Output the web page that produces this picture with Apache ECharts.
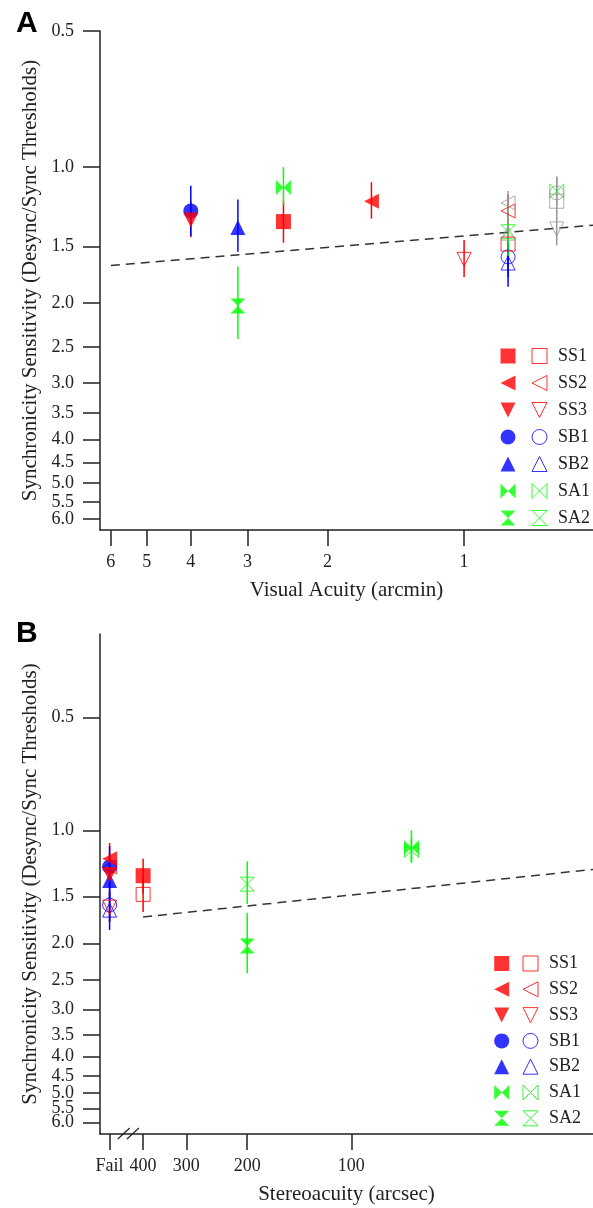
<!DOCTYPE html>
<html lang="en">
<head>
<meta charset="UTF-8">
<title>Synchronicity sensitivity</title>
<script src="https://cdn.jsdelivr.net/npm/echarts@6/dist/echarts.min.js"></script>
<style>html,body{margin:0;padding:0;background:#fff}</style>
</head>
<body>
<div id="main" style="width:593px;height:1208px;"></div>
<script>
  const subjects = ['SS1', 'SS2', 'SS3', 'SB1', 'SB2', 'SA1', 'SA2']
  const colors = ['#ff0000', '#ff0000', '#ff0000', '#0000ff', '#0000ff', '#00ff00', '#00ff00']
  const subjectShape = ['square', 'left', 'down', 'circle', 'up', 'bowtie', 'hourglass']

  // visual acuity (arcmin): filled = one eye, open = other eye
  const acuityFilled = [2.5, 1.6, 4.0, 4.0, 3.15, 2.5, 3.15]
  const acuityOpen = [0.8, 0.8, 1.0, 0.8, 0.8, 0.625, 0.8]
  // stereoacuity (arcsec), 500 = "Fail"
  const stereo = [400, 500, 500, 500, 500, 67, 200]

  const sensFilled = [1.32, 1.19, 1.31, 1.25, 1.36, 1.11, 2.03]
  const sensOpen = [1.48, 1.25, 1.60, 1.58, 1.63, 1.13, 1.39]
  const errFilledLo = [1.19, 1.08, 1.19, 1.10, 1.18, 1.00, 1.66]
  const errFilledHi = [1.47, 1.30, 1.43, 1.42, 1.54, 1.21, 2.40]
  const errOpenLo = [1.33, 1.15, 1.45, 1.42, 1.47, 1.05, 1.21]
  const errOpenHi = [1.65, 1.36, 1.75, 1.75, 1.84, 1.22, 1.57]

  // grey points, panel A only
  const greyAcuity = [0.8, 0.8, 0.625, 0.625, 0.625]
  const greySens = [1.20, 1.40, 1.14, 1.19, 1.37]
  const greyShape = ['left', 'up', 'circle', 'square', 'down']
  const greyErrAcuity = [0.8, 0.625]
  const greyErrLo = [1.13, 1.05]
  const greyErrHi = [1.45, 1.49]

  // dashed fit lines
  const fitA = [[6, 1.65], [0.52, 1.345]]
  const fitB = [[400, 1.70], [20, 1.27]]

  const sensTicks = [0.5, 1, 1.5, 2, 2.5, 3, 3.5, 4, 4.5, 5, 6]
  const sensTicksCrowded = [5.5]   // drawn on an overlay axis so it is not dropped as overlapping
  const acuityTicks = [6, 5, 4, 3, 2, 1]
  const stereoTicks = [500, 400, 300, 200, 100]
  const axisBreak = [455, 428]

  const shapes = {
    square: 'rect',
    circle: 'circle',
    left: 'path://M0,5L10,0L10,10Z',
    down: 'path://M0,0L10,0L5,10Z',
    up: 'path://M5,0L10,10L0,10Z',
    bowtie: 'path://M0,0L5,5L0,10ZM10,0L5,5L10,10Z',
    hourglass: 'path://M0,0L10,0L5,5ZM0,10L10,10L5,5Z'
  }

  const serif = 'Liberation Serif'
  const ink = '#222'

  function errorBar(params, api) {
    const p1 = api.coord([api.value(0), api.value(1)])
    const p2 = api.coord([api.value(0), api.value(2)])
    return {
      type: 'line',
      shape: {x1: p1[0], y1: p1[1], x2: p2[0], y2: p2[1]},
      style: {stroke: api.visual('color'), lineWidth: 1.5}
    }
  }

  function breakMark(params, api) {
    const x = api.coord([api.value(0), 1])[0]
    const y = params.coordSys.y + params.coordSys.height
    return {
      type: 'line',
      shape: {x1: x - 6, y1: y + 5, x2: x + 6, y2: y - 6},
      style: {stroke: ink, lineWidth: 1.2}
    }
  }

  function sensAxis(gridIndex, min, max, ticks, withLine) {
    return {
      type: 'log', logBase: 10, gridIndex, position: 'left', offset: 0, inverse: true, min, max,
      axisLine: {show: withLine, onZero: false, lineStyle: {color: ink, width: 1.5}},
      axisTick: {show: true, length: 17, customValues: ticks, lineStyle: {color: ink, width: 1.5}},
      axisLabel: {customValues: ticks, formatter: v => Number(v).toFixed(1), margin: 26,
        showMinLabel: true, showMaxLabel: true, fontFamily: serif, fontSize: 18, color: ink},
      splitLine: {show: false},
      name: withLine ? 'Synchronicity Sensitivity (Desync/Sync Thresholds)' : '',
      nameLocation: 'middle', nameGap: 53, nameRotate: 90,
      nameTextStyle: {fontFamily: serif, fontSize: 21, color: ink}
    }
  }

  function xAxis(gridIndex, min, max, ticks, fmt, name) {
    return {
      type: 'log', gridIndex, position: 'bottom', inverse: true, min, max,
      axisLine: {show: true, onZero: false, lineStyle: {color: ink, width: 1.5}},
      axisTick: {show: true, length: 16, customValues: ticks, lineStyle: {color: ink, width: 1.5}},
      axisLabel: {customValues: ticks, formatter: fmt, margin: 23, showMinLabel: true, showMaxLabel: true,
        fontFamily: serif, fontSize: 18, color: ink},
      splitLine: {show: false},
      name, nameLocation: 'middle', nameGap: 50,
      nameTextStyle: {fontFamily: serif, fontSize: 21, color: ink}
    }
  }

  function legends(top, left1, left2, gap) {
    const base = {orient: 'vertical', top, padding: 0, itemWidth: 15, itemHeight: 15, itemGap: gap,
      selectedMode: false}
    return [
      Object.assign({}, base, {data: subjects, left: left1, formatter: () => ' ',
        textStyle: {fontFamily: serif, fontSize: 18}, itemStyle: {borderWidth: 0}}),
      Object.assign({}, base, {data: subjects.map(s => s + ' open'), left: left2,
        formatter: n => n.replace(' open', ''),
        textStyle: {fontFamily: serif, fontSize: 18, color: ink, padding: [0, 0, 0, 6]},
        itemStyle: {borderWidth: 1}})
    ]
  }

  const errA = [], errB = []
  subjects.forEach((s, i) => {
    errA.push({value: [acuityFilled[i], errFilledLo[i], errFilledHi[i]], itemStyle: {color: colors[i]}})
    errA.push({value: [acuityOpen[i], errOpenLo[i], errOpenHi[i]], itemStyle: {color: colors[i]}})
    errB.push({value: [stereo[i], errFilledLo[i], errFilledHi[i]], itemStyle: {color: colors[i]}})
    errB.push({value: [stereo[i], errOpenLo[i], errOpenHi[i]], itemStyle: {color: colors[i]}})
  })
  greyErrAcuity.forEach((a, i) => {
    errA.push({value: [a, greyErrLo[i], greyErrHi[i]], itemStyle: {color: '#999'}})
  })

  const series = [
    {type: 'custom', xAxisIndex: 0, yAxisIndex: 0, z: 1, silent: true, renderItem: errorBar, data: errA},
    {type: 'custom', xAxisIndex: 1, yAxisIndex: 1, z: 1, silent: true, renderItem: errorBar, data: errB},
    {type: 'custom', xAxisIndex: 1, yAxisIndex: 1, z: 3, silent: true, renderItem: breakMark,
      data: axisBreak.map(v => [v])},
    {type: 'line', xAxisIndex: 0, yAxisIndex: 0, z: 1, silent: true, symbol: 'none', data: fitA,
      lineStyle: {type: [9, 6], color: '#333', width: 1.5}},
    {type: 'line', xAxisIndex: 1, yAxisIndex: 1, z: 1, silent: true, symbol: 'none', data: fitB,
      lineStyle: {type: [9, 6], color: '#333', width: 1.5}}
  ]

  const order = [3, 4, 5, 6, 0, 1, 2]
  for (const open of [true, false]) {
    for (const i of order) {
      const common = {
        type: 'scatter', silent: true,
        name: open ? subjects[i] + ' open' : subjects[i],
        symbol: shapes[subjectShape[i]],
        symbolSize: open ? 14 : 15,
        itemStyle: open ? {color: 'rgba(0,0,0,0)', borderColor: colors[i], borderWidth: 1} : {color: colors[i]}
      }
      series.push(Object.assign({}, common, {xAxisIndex: 0, yAxisIndex: 0,
        data: [[open ? acuityOpen[i] : acuityFilled[i], open ? sensOpen[i] : sensFilled[i]]]}))
      series.push(Object.assign({}, common, {xAxisIndex: 1, yAxisIndex: 1,
        data: [[stereo[i], open ? sensOpen[i] : sensFilled[i]]]}))
    }
  }
  series.push({
    type: 'scatter', silent: true, xAxisIndex: 0, yAxisIndex: 0, symbolSize: 14,
    itemStyle: {color: 'rgba(0,0,0,0)', borderColor: '#999', borderWidth: 1},
    data: greyAcuity.map((a, i) => ({value: [a, greySens[i]], symbol: shapes[greyShape[i]]}))
  })

  const panelLetter = {fontFamily: 'Liberation Sans', fontWeight: 'bold', fontSize: 30, color: '#000'}

  const option = {
    animation: false,
    backgroundColor: '#fff',
    title: [
      {text: 'A', left: 16, top: 9, padding: 0, textStyle: panelLetter},
      {text: 'B', left: 16, top: 619, padding: 0, textStyle: panelLetter}
    ],
    legend: [].concat(legends(347, 500.5, 531.5, 9), legends(954.5, 494.2, 522.5, 7.8)),
    grid: [
      {left: 100, top: 31, right: 0, height: 499, outerBoundsMode: 'none'},
      {left: 100, top: 634, right: 0, height: 500, outerBoundsMode: 'none'}
    ],
    xAxis: [
      xAxis(0, 0.52, 6.34, acuityTicks, v => String(v), 'Visual Acuity (arcmin)'),
      xAxis(1, 20, 533, stereoTicks, v => (v == 500 ? 'Fail' : String(v)), 'Stereoacuity (arcsec)')
    ],
    yAxis: [
      sensAxis(0, 0.5, 6.35, sensTicks, true),
      sensAxis(1, 0.3, 6.43, sensTicks, true),
      sensAxis(0, 0.5, 6.35, sensTicksCrowded, false),
      sensAxis(1, 0.3, 6.43, sensTicksCrowded, false)
    ],
    series
  }

  const chart = echarts.init(document.getElementById('main'))
  chart.setOption(option)
</script>
</body>
</html>
